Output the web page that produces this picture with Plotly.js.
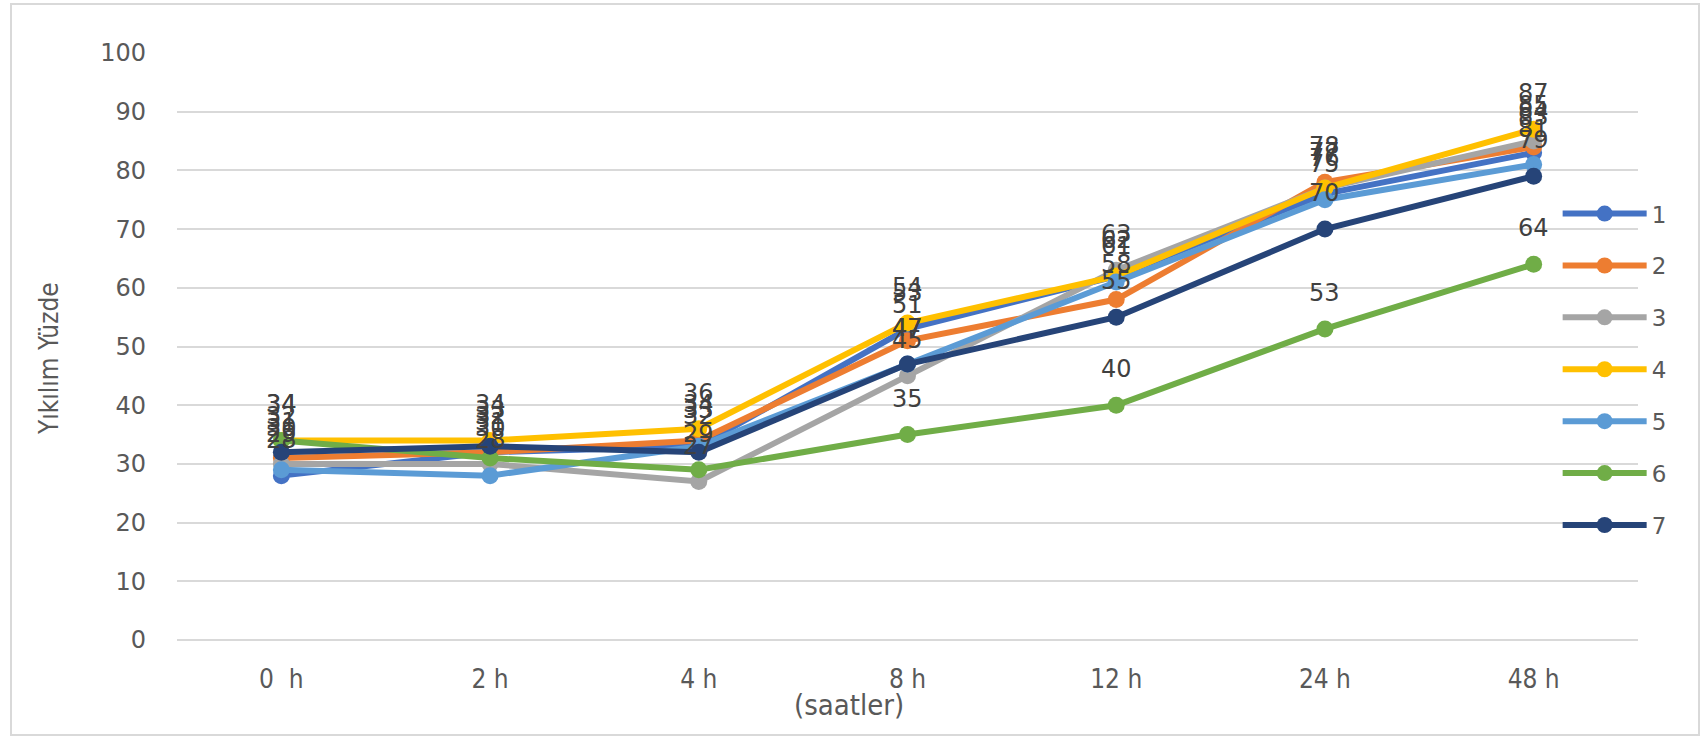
<!DOCTYPE html>
<html>
<head>
<meta charset="utf-8">
<script src="https://cdn.plot.ly/plotly-3.0.1.min.js"></script>
<style>
  html, body { margin: 0; padding: 0; background: #ffffff; }
  #wrap { position: relative; width: 1706px; height: 739px; }
  #frame { position: absolute; left: 10px; top: 3px; width: 1686px; height: 729px; border: 2px solid #d9d9d9; pointer-events: none; }
  #chart { position: absolute; left: 0; top: 0; width: 1706px; height: 739px; }
</style>
</head>
<body>
<div id="wrap">
  <div id="chart"></div>
  <div id="frame"></div>
</div>
<script>
// ---- data ----
const categories = ["0\u00a0 h", "2 h", "4 h", "8 h", "12 h", "24 h", "48 h"];
const seriesNames = ["1", "2", "3", "4", "5", "6", "7"];
const s1 = [28, 32, 33, 53, 62, 76, 83];
const s2 = [31, 32, 34, 51, 58, 78, 84];
const s3 = [30, 30, 27, 45, 63, 77, 85];
const s4 = [34, 34, 36, 54, 62, 77, 87];
const s5 = [29, 28, 33, 47, 61, 75, 81];
const s6 = [34, 31, 29, 35, 40, 53, 64];
const s7 = [32, 33, 32, 47, 55, 70, 79];
const seriesValues = [s1, s2, s3, s4, s5, s6, s7];
const colors = ["#4472C4", "#ED7D31", "#A5A5A5", "#FFC000", "#5B9BD5", "#70AD47", "#264478"];
const yTitle = "Yıkılım Yüzde";
const xTitle = "(saatler)";

// ---- traces ----
const traces = seriesValues.map((vals, i) => ({
  type: "scatter",
  mode: "lines+markers",
  name: seriesNames[i],
  legendgroup: "g" + i,
  x: categories,
  y: vals,
  line: { color: colors[i], width: 6 },
  marker: { color: colors[i], size: 17 },
  cliponaxis: false
}));

// data labels above points
const annotations = [];
seriesValues.forEach((vals, i) => {
  vals.forEach((v, j) => {
    annotations.push({
      x: categories[j], y: v, xref: "x", yref: "y",
      text: String(v), showarrow: false, yshift: 36,
      font: { family: "DejaVu Sans, Open Sans, sans-serif", size: 24, color: "#404040" }
    });
  });
});
annotations.push({
  xref: "paper", yref: "paper", x: (849 - 177) / 1461, y: -65 / 587,
  text: xTitle, showarrow: false, xanchor: "center", yanchor: "middle",
  font: { family: "Liberation Sans Narrow, DejaVu Sans Condensed, sans-serif", size: 29, color: "#595959" }
});
annotations.push({
  xref: "paper", yref: "paper", x: (49 - 177) / 1461, y: (640 - 359) / 587,
  text: yTitle, showarrow: false, textangle: -90, xanchor: "center", yanchor: "middle",
  font: { family: "Liberation Sans Narrow, DejaVu Sans Condensed, sans-serif", size: 26, color: "#595959" }
});

const layout = {
  width: 1706, height: 739,
  margin: { l: 177, r: 68, t: 53, b: 99 },
  paper_bgcolor: "#ffffff", plot_bgcolor: "#ffffff",
  showlegend: true,
  legend: {
    x: 0.945, xanchor: "left", y: 0.763, yanchor: "top",
    bgcolor: "rgba(0,0,0,0)",
    itemwidth: 84,
    font: { family: "DejaVu Sans, sans-serif", size: 23, color: "#595959" },
    tracegroupgap: 19
  },
  xaxis: {
    type: "category",
    range: [-0.5, 6.5],
    showgrid: false, zeroline: false, showline: false,
    ticks: "", ticklabelstandoff: 21,
    tickfont: { family: "Liberation Sans Narrow, DejaVu Sans Condensed, sans-serif", size: 26, color: "#595959" }
  },
  yaxis: {
    range: [0, 100], dtick: 10, tick0: 0,
    showgrid: true, gridcolor: "#d9d9d9", gridwidth: 2,
    zeroline: true, zerolinecolor: "#d9d9d9", zerolinewidth: 2,
    showline: false, ticks: "", ticklabelstandoff: 30,
    tickfont: { family: "DejaVu Sans, sans-serif", size: 24, color: "#595959" }
  },
  annotations: annotations
};

Plotly.newPlot("chart", traces, layout, { displayModeBar: false, staticPlot: true });
</script>
</body>
</html>
